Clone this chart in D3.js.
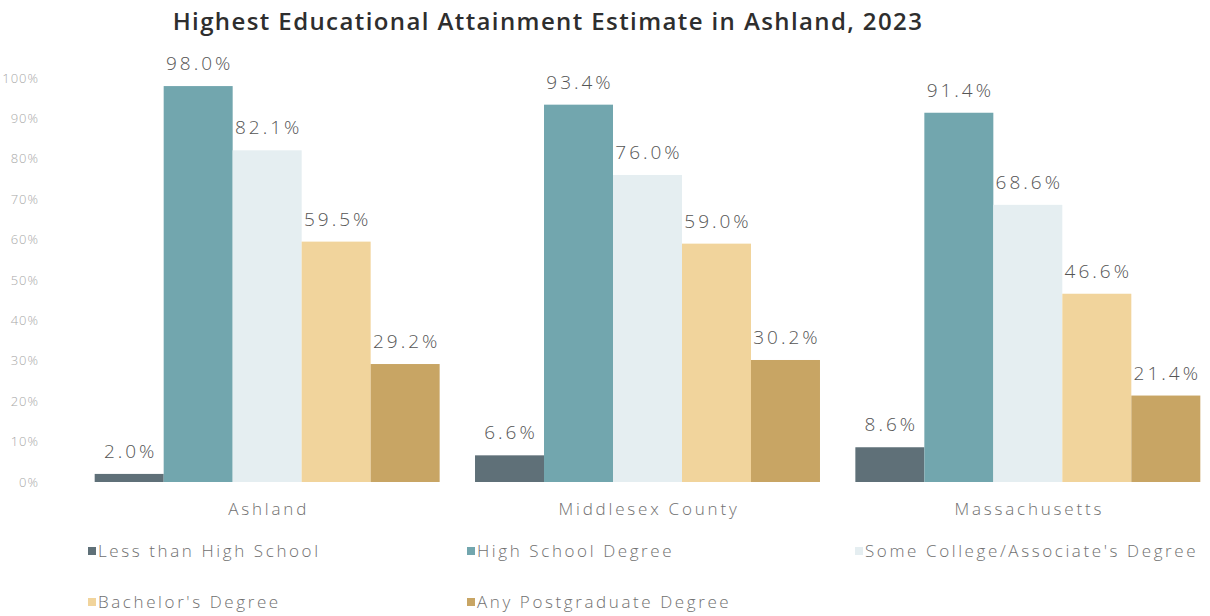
<!DOCTYPE html>
<html>
<head>
<meta charset="utf-8">
<script src="https://cdn.jsdelivr.net/npm/d3@7"></script>
<style>
  html, body { margin: 0; padding: 0; background: #fff; }
  svg { display: block; }
</style>
</head>
<body>
<svg id="chart" width="1210" height="616"></svg>
<script>
// Geographies shown as groups along the x axis
const regions = ["Ashland", "Middlesex County", "Massachusetts"];

// Attainment levels, one bar per level inside each group
const levels = [
  "Less than High School",
  "High School Degree",
  "Some College/Associate's Degree",
  "Bachelor's Degree",
  "Any Postgraduate Degree"
];

// Percent of adults at each level, in the order of `regions`
const lessThanHS   = [2.0, 6.6, 8.6];
const highSchool   = [98.0, 93.4, 91.4];
const someCollege  = [82.1, 76.0, 68.6];
const bachelors    = [59.5, 59.0, 46.6];
const postgraduate = [29.2, 30.2, 21.4];

const yTicks = [0, 10, 20, 30, 40, 50, 60, 70, 80, 90, 100];

const levelColors = ["#5f7078", "#72a6ae", "#e5eef1", "#f1d49c", "#c8a564"];

const seriesValues = [lessThanHS, highSchool, someCollege, bachelors, postgraduate];

const svg = d3.select("#chart");
const labelFont = "'Open Sans', 'Noto Sans', sans-serif";

// Scales
const x0 = d3.scaleBand()
  .domain(regions)
  .range([77, 1218])
  .paddingInner(0.093)
  .paddingOuter(0.0465);

const x1 = d3.scaleBand()
  .domain(levels)
  .range([0, x0.bandwidth()])
  .padding(0);

const y = d3.scaleLinear()
  .domain([0, 100])
  .range([482, 78]);

const color = d3.scaleOrdinal().domain(levels).range(levelColors);

// Title
svg.append("text")
  .attr("x", 548)
  .attr("y", 30)
  .attr("text-anchor", "middle")
  .attr("font-family", "'Open Sans', sans-serif")
  .attr("font-weight", 600)
  .attr("font-size", 24)
  .attr("letter-spacing", 1.4)
  .attr("fill", "#2e2e2e")
  .text("Highest Educational Attainment Estimate in Ashland, 2023");

// Y axis (labels only)
const yAxis = d3.axisLeft(y)
  .tickValues(yTicks)
  .tickFormat(d => d + "%")
  .tickSize(0)
  .tickPadding(0);

const yg = svg.append("g")
  .attr("transform", "translate(39,0)")
  .call(yAxis);
yg.select(".domain").remove();
yg.selectAll("text")
  .attr("font-family", labelFont)
  .attr("font-weight", 300)
  .attr("font-size", 13)
  .attr("letter-spacing", 1)
  .attr("fill", "#a8a8a8");

// Bars
const rows = regions.map((r, i) => ({
  region: r,
  values: levels.map((lv, j) => ({ level: lv, value: seriesValues[j][i] }))
}));

const groups = svg.append("g")
  .selectAll("g")
  .data(rows)
  .join("g")
  .attr("transform", d => `translate(${x0(d.region)},0)`);

groups.selectAll("rect")
  .data(d => d.values)
  .join("rect")
  .attr("x", d => x1(d.level))
  .attr("y", d => y(d.value))
  .attr("width", x1.bandwidth())
  .attr("height", d => y(0) - y(d.value))
  .attr("fill", d => color(d.level));

// Value labels above bars
groups.selectAll("text.val")
  .data(d => d.values)
  .join("text")
  .attr("class", "val")
  .attr("x", d => x1(d.level) + x1.bandwidth() / 2 + 1.5)
  .attr("y", d => y(d.value) - 16)
  .attr("text-anchor", "middle")
  .attr("font-family", labelFont)
  .attr("font-weight", 300)
  .attr("font-size", 19)
  .attr("letter-spacing", 3)
  .attr("fill", "#555")
  .text(d => d.value.toFixed(1) + "%");

// X axis category labels
const xAxis = d3.axisBottom(x0).tickSize(0).tickPadding(0);
const xg = svg.append("g")
  .attr("transform", "translate(0,503)")
  .call(xAxis);
xg.select(".domain").remove();
xg.selectAll("text")
  .attr("dy", "0.71em")
  .attr("dx", 1.5)
  .attr("font-family", labelFont)
  .attr("font-weight", 300)
  .attr("font-size", 17)
  .attr("letter-spacing", 2.8)
  .attr("fill", "#707070");

// Legend
const legendPos = [
  [88, 551], [467, 551], [855, 551],
  [88, 602], [467, 602]
];

const legend = svg.append("g")
  .selectAll("g")
  .data(levels)
  .join("g")
  .attr("transform", (d, i) => `translate(${legendPos[i][0]},${legendPos[i][1]})`);

legend.append("rect")
  .attr("x", 0)
  .attr("y", -4)
  .attr("width", 8)
  .attr("height", 8)
  .attr("fill", d => color(d));

legend.append("text")
  .attr("x", 10)
  .attr("y", 0)
  .attr("dy", "0.35em")
  .attr("font-family", labelFont)
  .attr("font-weight", 300)
  .attr("font-size", 17)
  .attr("letter-spacing", 2.6)
  .attr("fill", "#707070")
  .text(d => d);
</script>
</body>
</html>
